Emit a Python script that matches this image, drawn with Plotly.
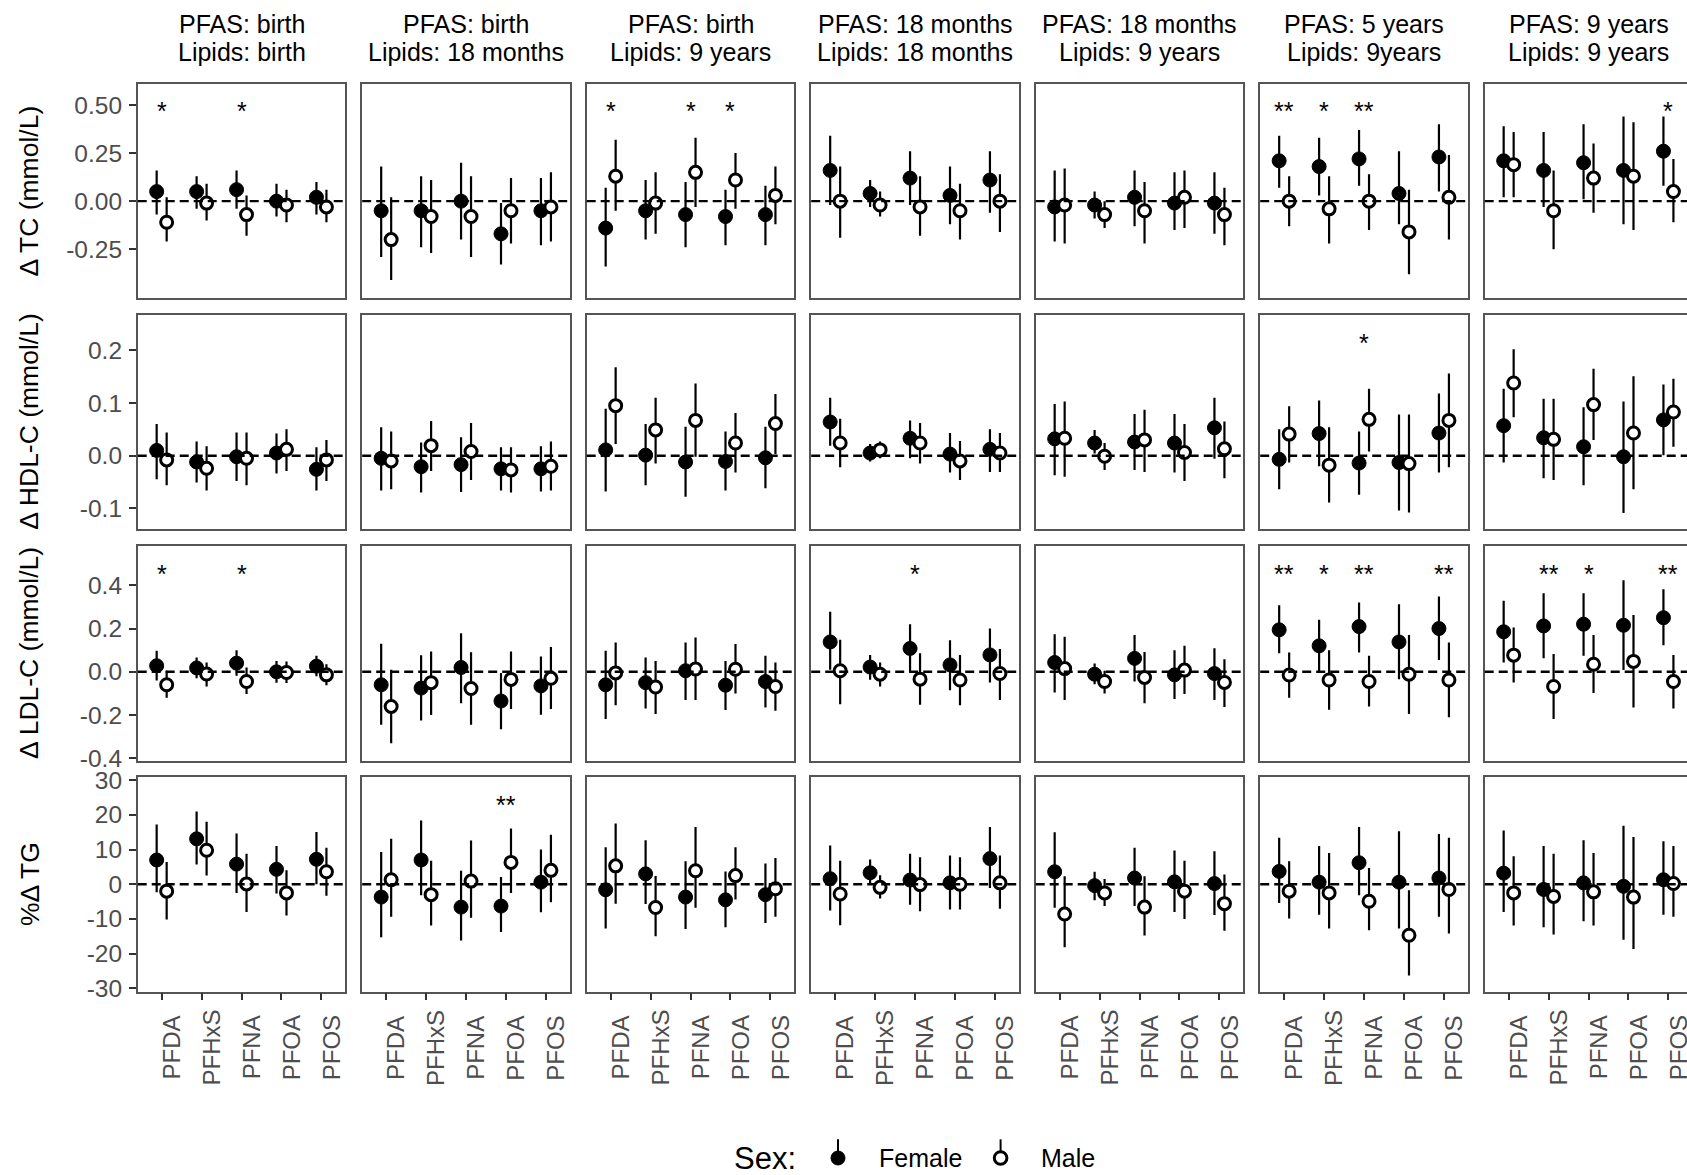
import plotly.graph_objects as go

# ---------------- data ----------------
pfas = ["PFDA", "PFHxS", "PFNA", "PFOA", "PFOS"]
strip_line1 = ["PFAS: birth", "PFAS: birth", "PFAS: birth", "PFAS: 18 months",
               "PFAS: 18 months", "PFAS: 5 years", "PFAS: 9 years"]
strip_line2 = ["Lipids: birth", "Lipids: 18 months", "Lipids: 9 years", "Lipids: 18 months",
               "Lipids: 9 years", "Lipids: 9years", "Lipids: 9 years"]
outcome_titles = ["\u0394 TC (mmol/L)", "\u0394 HDL-C (mmol/L)", "\u0394 LDL-C (mmol/L)", "%\u0394 TG"]
sexes = ["Female", "Male"]

# Total cholesterol (rows: 7 periods, cols: 5 PFAS)
tc_f_est = [[0.05, 0.05, 0.06, 0.00, 0.02], [-0.05, -0.05, 0.00, -0.17, -0.05],
            [-0.14, -0.05, -0.07, -0.08, -0.07], [0.16, 0.04, 0.12, 0.03, 0.11],
            [-0.03, -0.02, 0.02, -0.01, -0.01], [0.21, 0.18, 0.22, 0.04, 0.23],
            [0.21, 0.16, 0.20, 0.16, 0.26]]
tc_f_lo = [[-0.07, -0.04, -0.04, -0.08, -0.07], [-0.29, -0.24, -0.20, -0.33, -0.23],
           [-0.34, -0.20, -0.24, -0.23, -0.23], [-0.02, -0.03, -0.02, -0.12, -0.06],
           [-0.21, -0.09, -0.13, -0.15, -0.17], [0.07, 0.03, 0.08, -0.12, 0.05],
           [0.02, -0.03, 0.01, -0.12, 0.08]]
tc_f_hi = [[0.16, 0.13, 0.16, 0.09, 0.10], [0.18, 0.13, 0.20, -0.01, 0.12],
           [0.07, 0.11, 0.10, 0.06, 0.08], [0.34, 0.11, 0.26, 0.18, 0.26],
           [0.16, 0.05, 0.16, 0.15, 0.15], [0.34, 0.33, 0.37, 0.26, 0.40],
           [0.39, 0.36, 0.40, 0.44, 0.44]]
tc_m_est = [[-0.11, -0.01, -0.07, -0.02, -0.03], [-0.20, -0.08, -0.08, -0.05, -0.03],
            [0.13, -0.01, 0.15, 0.11, 0.03], [0.00, -0.02, -0.03, -0.05, 0.00],
            [-0.02, -0.07, -0.05, 0.02, -0.07], [0.00, -0.04, 0.00, -0.16, 0.02],
            [0.19, -0.05, 0.12, 0.13, 0.05]]
tc_m_lo = [[-0.21, -0.10, -0.18, -0.11, -0.11], [-0.41, -0.27, -0.29, -0.22, -0.21],
           [-0.05, -0.17, -0.03, -0.04, -0.12], [-0.19, -0.08, -0.18, -0.20, -0.16],
           [-0.22, -0.14, -0.22, -0.14, -0.23], [-0.13, -0.22, -0.15, -0.38, -0.20],
           [0.02, -0.25, -0.06, -0.15, -0.11]]
tc_m_hi = [[0.02, 0.09, 0.03, 0.06, 0.06], [0.02, 0.11, 0.13, 0.12, 0.15],
           [0.32, 0.15, 0.33, 0.25, 0.18], [0.18, 0.05, 0.13, 0.09, 0.14],
           [0.17, 0.00, 0.10, 0.16, 0.07], [0.13, 0.13, 0.14, 0.06, 0.24],
           [0.36, 0.16, 0.30, 0.41, 0.22]]

# HDL cholesterol
hdl_f_est = [[0.010, -0.012, -0.002, 0.005, -0.026], [-0.005, -0.021, -0.017, -0.025, -0.025],
             [0.011, 0.001, -0.012, -0.011, -0.004], [0.064, 0.005, 0.033, 0.003, 0.012],
             [0.032, 0.024, 0.026, 0.024, 0.053], [-0.007, 0.042, -0.014, -0.013, 0.043],
             [0.057, 0.034, 0.017, -0.002, 0.068]]
hdl_f_lo = [[-0.045, -0.051, -0.048, -0.034, -0.066], [-0.066, -0.070, -0.069, -0.066, -0.068],
            [-0.068, -0.056, -0.078, -0.066, -0.062], [0.019, -0.011, -0.005, -0.032, -0.031],
            [-0.037, 0.004, -0.027, -0.032, -0.006], [-0.064, -0.020, -0.074, -0.104, -0.032],
            [-0.013, -0.043, -0.056, -0.109, 0.001]]
hdl_f_hi = [[0.060, 0.027, 0.044, 0.042, 0.016], [0.054, 0.025, 0.035, 0.016, 0.018],
            [0.089, 0.060, 0.055, 0.046, 0.055], [0.110, 0.022, 0.067, 0.043, 0.050],
            [0.098, 0.049, 0.079, 0.079, 0.110], [0.050, 0.105, 0.046, 0.078, 0.118],
            [0.127, 0.108, 0.092, 0.103, 0.135]]
hdl_m_est = [[-0.008, -0.024, -0.005, 0.012, -0.008], [-0.010, 0.019, 0.008, -0.027, -0.020],
             [0.095, 0.049, 0.067, 0.024, 0.061], [0.024, 0.011, 0.024, -0.010, 0.005],
             [0.033, -0.001, 0.030, 0.006, 0.013], [0.041, -0.018, 0.069, -0.015, 0.067],
             [0.138, 0.031, 0.097, 0.043, 0.083]]
hdl_m_lo = [[-0.056, -0.066, -0.056, -0.029, -0.048], [-0.064, -0.029, -0.046, -0.070, -0.066],
            [0.022, -0.015, -0.002, -0.032, 0.003], [-0.022, -0.005, -0.015, -0.046, -0.031],
            [-0.040, -0.027, -0.031, -0.048, -0.043], [-0.013, -0.089, 0.008, -0.108, -0.022],
            [0.073, -0.046, 0.030, -0.064, 0.017]]
hdl_m_hi = [[0.044, 0.018, 0.044, 0.050, 0.030], [0.046, 0.066, 0.062, 0.016, 0.027],
            [0.168, 0.110, 0.137, 0.081, 0.117], [0.070, 0.027, 0.062, 0.028, 0.043],
            [0.103, 0.024, 0.087, 0.060, 0.065], [0.094, 0.054, 0.127, 0.078, 0.156],
            [0.202, 0.108, 0.165, 0.151, 0.146]]

# LDL cholesterol
ldl_f_est = [[0.028, 0.018, 0.040, 0.000, 0.026], [-0.060, -0.075, 0.020, -0.135, -0.065],
             [-0.060, -0.050, 0.005, -0.062, -0.045], [0.138, 0.022, 0.108, 0.032, 0.078],
             [0.043, -0.011, 0.062, -0.014, -0.008], [0.194, 0.120, 0.209, 0.138, 0.200],
             [0.185, 0.212, 0.220, 0.215, 0.250]]
ldl_f_lo = [[-0.040, -0.030, -0.018, -0.050, -0.020], [-0.245, -0.225, -0.145, -0.265, -0.198],
            [-0.218, -0.169, -0.130, -0.177, -0.165], [0.010, -0.037, -0.003, -0.085, -0.049],
            [-0.095, -0.057, -0.045, -0.126, -0.130], [0.086, -0.003, 0.089, -0.034, 0.055],
            [0.043, 0.063, 0.074, 0.008, 0.123]]
ldl_f_hi = [[0.097, 0.066, 0.100, 0.050, 0.074], [0.130, 0.077, 0.178, -0.006, 0.071],
            [0.097, 0.066, 0.135, 0.050, 0.074], [0.277, 0.078, 0.220, 0.146, 0.200],
            [0.174, 0.038, 0.170, 0.100, 0.109], [0.308, 0.240, 0.320, 0.312, 0.348],
            [0.328, 0.363, 0.363, 0.423, 0.382]]
ldl_m_est = [[-0.060, -0.010, -0.045, -0.003, -0.014], [-0.160, -0.050, -0.077, -0.035, -0.030],
             [-0.005, -0.070, 0.013, 0.012, -0.068], [0.005, -0.011, -0.034, -0.038, -0.008],
             [0.015, -0.045, -0.026, 0.008, -0.049], [-0.015, -0.038, -0.045, -0.011, -0.038],
             [0.077, -0.068, 0.035, 0.048, -0.045]]
ldl_m_lo = [[-0.120, -0.068, -0.103, -0.052, -0.062], [-0.330, -0.200, -0.245, -0.172, -0.172],
            [-0.154, -0.195, -0.130, -0.100, -0.180], [-0.150, -0.068, -0.152, -0.154, -0.130],
            [-0.130, -0.100, -0.145, -0.103, -0.162], [-0.120, -0.175, -0.160, -0.195, -0.210],
            [-0.049, -0.218, -0.098, -0.165, -0.169]]
ldl_m_hi = [[0.005, 0.043, 0.020, 0.048, 0.035], [0.010, 0.094, 0.090, 0.094, 0.115],
            [0.135, 0.050, 0.158, 0.128, 0.043], [0.148, 0.043, 0.086, 0.078, 0.105],
            [0.162, 0.005, 0.092, 0.120, 0.058], [0.089, 0.100, 0.074, 0.170, 0.135],
            [0.205, 0.082, 0.170, 0.262, 0.078]]

# Triglycerides (% change)
tg_f_est = [[7.0, 13.1, 5.8, 4.3, 7.2], [-3.7, 7.0, -6.6, -6.3, 0.6],
            [-1.6, 3.0, -3.7, -4.5, -3.0], [1.6, 3.3, 1.2, 0.4, 7.4],
            [3.6, -0.4, 1.8, 0.7, 0.2], [3.7, 0.6, 6.2, 0.6, 1.8],
            [3.2, -1.5, 0.4, -0.6, 1.3]]
tg_f_lo = [[-2.3, 5.7, -2.5, -2.7, 0.0], [-15.3, -3.2, -16.2, -13.8, -8.1],
           [-12.8, -5.7, -12.9, -12.4, -11.2], [-7.6, -0.1, -5.9, -7.3, -1.1],
           [-6.8, -4.6, -6.3, -8.0, -8.9], [-5.4, -8.8, -3.2, -12.8, -9.4],
           [-8.0, -12.4, -10.7, -16.0, -8.8]]
tg_f_hi = [[17.2, 21.0, 14.6, 11.0, 15.1], [9.3, 18.4, 3.9, 2.1, 10.0],
           [10.7, 12.7, 6.6, 3.7, 6.0], [11.2, 7.1, 8.8, 8.3, 16.5],
           [15.0, 3.6, 10.5, 9.7, 9.5], [13.4, 11.0, 16.5, 15.3, 14.5],
           [15.5, 11.0, 12.7, 16.9, 12.4]]
tg_m_est = [[-2.0, 9.8, 0.1, -2.5, 3.6], [1.3, -3.0, 0.9, 6.3, 4.0],
            [5.3, -6.7, 3.9, 2.5, -1.3], [-2.8, -0.9, -0.1, 0.0, 0.4],
            [-8.6, -2.5, -6.6, -2.0, -5.6], [-2.0, -2.5, -4.9, -14.7, -1.5],
            [-2.5, -3.5, -2.2, -3.7, 0.2]]
tg_m_lo = [[-10.2, 2.5, -8.0, -9.0, -3.3], [-9.4, -11.9, -9.7, -2.5, -5.2],
           [-5.6, -15.0, -6.8, -4.4, -9.4], [-11.8, -4.1, -7.8, -7.3, -7.1],
           [-18.2, -6.3, -14.8, -10.0, -13.4], [-9.9, -12.8, -13.3, -26.3, -14.2],
           [-11.9, -14.5, -11.9, -18.7, -9.4]]
tg_m_hi = [[6.4, 18.0, 8.8, 4.0, 10.5], [13.1, 6.8, 12.6, 16.1, 14.3],
           [17.5, 2.4, 16.5, 10.7, 7.6], [6.8, 2.6, 7.8, 7.8, 8.3],
           [2.3, 1.5, 2.3, 6.8, 2.8], [6.6, 9.0, 4.7, -1.7, 13.4],
           [8.1, 8.8, 9.0, 13.6, 11.0]]

# significance stars (per period, per PFAS)
E = ["", "", "", "", ""]
stars_tc = [["*", "", "*", "", ""], E, ["*", "", "*", "*", ""], E, E,
            ["**", "*", "**", "", ""], ["", "", "", "", "*"]]
stars_hdl = [E, E, E, E, E, ["", "", "*", "", ""], E]
stars_ldl = [["*", "", "*", "", ""], E, E, ["", "", "*", "", ""], E,
             ["**", "*", "**", "", "**"], ["", "**", "*", "", "**"]]
stars_tg = [E, ["", "", "", "**", ""], E, E, E, E, E]
star_level = [0.5, 0.225, 0.48, 24.7]

# axis settings per outcome row
y_ranges = [[-0.505, 0.61], [-0.14, 0.267], [-0.41, 0.58], [-31.0, 30.8]]
y_tickvals = [[-0.25, 0, 0.25, 0.5], [-0.1, 0, 0.1, 0.2], [-0.4, -0.2, 0, 0.2, 0.4],
              [-30, -20, -10, 0, 10, 20, 30]]
y_ticktext = [["-0.25", "0.00", "0.25", "0.50"], ["-0.1", "0.0", "0.1", "0.2"],
              ["-0.4", "-0.2", "0.0", "0.2", "0.4"],
              ["-30", "-20", "-10", "0", "10", "20", "30"]]

rows = [
    (tc_f_est, tc_f_lo, tc_f_hi, tc_m_est, tc_m_lo, tc_m_hi, stars_tc),
    (hdl_f_est, hdl_f_lo, hdl_f_hi, hdl_m_est, hdl_m_lo, hdl_m_hi, stars_hdl),
    (ldl_f_est, ldl_f_lo, ldl_f_hi, ldl_m_est, ldl_m_lo, ldl_m_hi, stars_ldl),
    (tg_f_est, tg_f_lo, tg_f_hi, tg_m_est, tg_m_lo, tg_m_hi, stars_tg),
]

# ---------------- layout geometry (pixels) ----------------
W, H = 1687, 1175
FONT = "Liberation Sans, Arial, Helvetica, sans-serif"
col_left0, col_pitch, col_w = 137.7, 224.5, 207.7
row_top0, row_pitch, row_h = 83.5, 231.2, 214.3
dodge = 0.125
border_col = "#555555"
tick_col = "#333333"
text_grey = "#4D4D4D"


def py(y_px):
    """target vertical pixel -> paper fraction (compensates page offset in capture)"""
    y_fig = (y_px - 10.55) / 0.9814
    return 1 - y_fig / H


fig = go.Figure()
layout = dict(width=W, height=H, margin=dict(l=0, r=0, t=0, b=0),
              paper_bgcolor="white", plot_bgcolor="white", showlegend=False,
              font=dict(family=FONT, color="black"))
annotations = []
shapes = []

for r in range(4):
    f_est, f_lo, f_hi, m_est, m_lo, m_hi, stars = rows[r]
    top = row_top0 + r * row_pitch
    bot = top + row_h
    for c in range(7):
        k = r * 7 + c + 1
        sfx = "" if k == 1 else str(k)
        left = col_left0 + c * col_pitch
        right = min(left + col_w, W)
        x_hi = 0.4 + 5.2 * (right - left) / col_w

        # points: females then males (males drawn on top)
        xs = [i + 1 - dodge for i in range(5)] + [i + 1 + dodge for i in range(5)]
        ys = f_est[c] + m_est[c]
        lo = f_lo[c] + m_lo[c]
        hi = f_hi[c] + m_hi[c]
        fig.add_trace(go.Scatter(
            x=xs, y=ys, mode="markers", xaxis="x" + sfx, yaxis="y" + sfx,
            error_y=dict(type="data", symmetric=False,
                         array=[h - y for h, y in zip(hi, ys)],
                         arrayminus=[y - l for y, l in zip(ys, lo)],
                         width=0, thickness=2.2, color="black"),
            marker=dict(size=[14] * 5 + [12] * 5,
                        color=["black"] * 5 + ["white"] * 5,
                        opacity=1,
                        line=dict(color="black", width=[1] * 5 + [3] * 5)),
            hoverinfo="skip"))

        layout["xaxis" + sfx] = dict(
            domain=[left / W, right / W], anchor="y" + sfx, range=[0.4, x_hi],
            showgrid=False, zeroline=False, showline=True, linecolor=border_col,
            linewidth=1.5, mirror=True, tickvals=[1, 2, 3, 4, 5],
            ticks="outside" if r == 3 else "", ticklen=7, tickwidth=1.5,
            tickcolor=tick_col, showticklabels=False, fixedrange=True)
        layout["yaxis" + sfx] = dict(
            domain=[py(bot), py(top)], anchor="x" + sfx, range=y_ranges[r],
            showgrid=False, zeroline=False, showline=True, linecolor=border_col,
            linewidth=1.5, mirror=(c < 6), tickvals=y_tickvals[r],
            ticktext=y_ticktext[r], ticks="outside" if c == 0 else "",
            ticklen=7, tickwidth=1.5, tickcolor=tick_col, ticklabelstandoff=2,
            showticklabels=(c == 0), tickfont=dict(size=24.5, color=text_grey, family=FONT),
            fixedrange=True)

        # dashed zero line
        shapes.append(dict(type="line", xref="x" + sfx + " domain", x0=0, x1=1,
                           yref="y" + sfx, y0=0, y1=0,
                           line=dict(color="black", width=2.4, dash="9px,5px"), layer="above"))

        # significance stars
        for i, s in enumerate(stars[c]):
            if s:
                annotations.append(dict(x=i + 1, y=star_level[r], xref="x" + sfx,
                                        yref="y" + sfx, text=s, showarrow=False,
                                        yshift=-6, font=dict(size=25, color="black")))

        # x tick labels (bottom row), centred like the original
        if r == 3:
            for i, name in enumerate(pfas):
                annotations.append(dict(x=i + 1, y=py(1047.5), xref="x" + sfx,
                                        yref="paper", text=name, showarrow=False,
                                        textangle=-90, xshift=10, xanchor="center",
                                        yanchor="middle",
                                        font=dict(size=24, color=text_grey)))

    # outcome titles
    annotations.append(dict(x=29.5 / W, y=py(top + row_h / 2), xref="paper",
                            yref="paper", text=outcome_titles[r], showarrow=False,
                            textangle=-90, xanchor="center", yanchor="middle",
                            font=dict(size=26.5, color="black")))

# strip labels
for c in range(7):
    cx = (col_left0 + c * col_pitch + col_w / 2) / W
    annotations.append(dict(x=cx, y=py(24), xref="paper", yref="paper",
                            text=strip_line1[c], showarrow=False, xanchor="center",
                            yanchor="middle", font=dict(size=25, color="black")))
    annotations.append(dict(x=cx, y=py(51.5), xref="paper", yref="paper",
                            text=strip_line2[c], showarrow=False, xanchor="center",
                            yanchor="middle", font=dict(size=25, color="black")))

# legend (drawn manually, ggplot style pointrange keys)
leg_y = py(1157.7)
annotations.append(dict(x=798 / W, y=leg_y, xref="paper", yref="paper", text="Sex:",
                        showarrow=False, xanchor="right", yanchor="middle",
                        font=dict(size=31, color="black")))
key_x = [838, 1000.6]
label_x = [877, 1039]
for j, sex in enumerate(sexes):
    shapes.append(dict(type="line", xref="paper", yref="paper", x0=key_x[j] / W,
                       x1=key_x[j] / W, y0=py(1139), y1=0,
                       line=dict(color="black", width=2)))
    rad = 7 if j == 0 else 6.3
    shapes.append(dict(type="circle", xref="paper", yref="paper",
                       xsizemode="pixel", ysizemode="pixel",
                       xanchor=key_x[j] / W, yanchor=leg_y,
                       x0=-rad, x1=rad, y0=-rad, y1=rad,
                       fillcolor="black" if j == 0 else "white",
                       line=dict(color="black", width=1 if j == 0 else 3)))
    annotations.append(dict(x=label_x[j] / W, y=leg_y, xref="paper", yref="paper",
                            text=sex, showarrow=False, xanchor="left", yanchor="middle",
                            font=dict(size=25, color="black")))

layout["annotations"] = annotations
layout["shapes"] = shapes
fig.update_layout(**layout)
fig.write_html("out.html")
